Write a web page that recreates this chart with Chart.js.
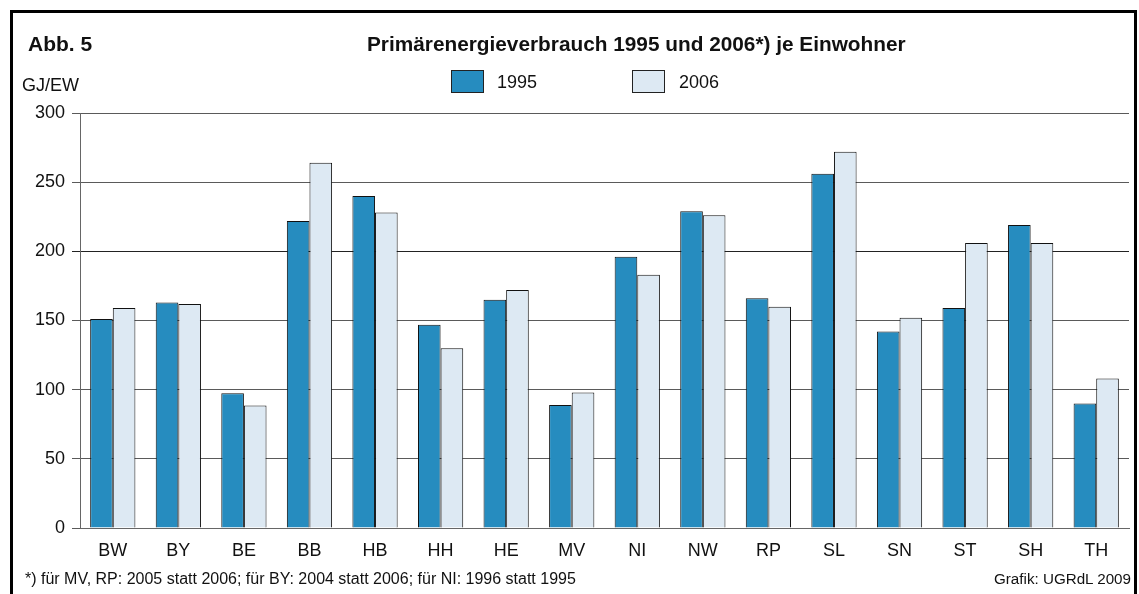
<!DOCTYPE html>
<html>
<head>
<meta charset="utf-8">
<script src="https://cdn.jsdelivr.net/npm/chart.js@4"></script>
<style>
  body { margin: 0; width: 1139px; height: 594px; overflow: hidden; background: #fff;
         font-family: 'Liberation Sans', Arial, sans-serif; color: #111; }
  #frame { position: absolute; left: 10px; top: 10px; width: 1121px; height: 600px;
           border: 3px solid #000; }
  #chartWrap { position: absolute; left: 0; top: 0; width: 1139px; height: 594px; }
  .txt { position: absolute; white-space: nowrap; }
  .legBox { position: absolute; width: 31px; height: 21px; border: 1px solid #222; }
</style>
</head>
<body>
<div id="frame"></div>
<div id="chartWrap"><canvas id="chart"></canvas></div>
<div class="txt" style="left:28px; top:32px; font-size:21px; font-weight:bold;">Abb. 5</div>
<div class="txt" id="title" style="left:367px; top:32px; font-size:20.8px; font-weight:bold;">Primärenergieverbrauch 1995 und 2006*) je Einwohner</div>
<div class="txt" style="left:22px; top:75px; font-size:18px;">GJ/EW</div>
<div id="legend"></div>
<div class="txt" style="left:25px; top:570px; font-size:16px;">*) für MV, RP: 2005 statt 2006; für BY: 2004 statt 2006; für NI: 1996 statt 1995</div>
<div class="txt" style="right:8px; top:570px; font-size:15.2px;">Grafik: UGRdL 2009</div>
<script>
// Bundesländer
const laender = ['BW', 'BY', 'BE', 'BB', 'HB', 'HH', 'HE', 'MV', 'NI', 'NW', 'RP', 'SL', 'SN', 'ST', 'SH', 'TH'];

// Primärenergieverbrauch je Einwohner in GJ
const werte1995 = [151, 163, 97.5, 222, 240, 147, 165, 89, 196, 229, 166, 256, 142, 159, 219, 90];
const werte2006 = [159, 162, 88.5, 264, 228, 130, 172, 98, 183, 226, 160, 272, 152, 206, 206, 108];

const jahre = ['1995', '2006'];
const farben = ['#268cbf', '#dde9f3'];

const yTicks = [0, 50, 100, 150, 200, 250, 300];

// Legende als HTML
const legendPos = [[451, 497], [632, 679]];
const legend = document.getElementById('legend');
jahre.forEach((j, i) => {
    const box = document.createElement('div');
    box.className = 'legBox';
    box.style.left = legendPos[i][0] + 'px';
    box.style.top = '70px';
    box.style.background = farben[i];
    legend.appendChild(box);
    const t = document.createElement('div');
    t.className = 'txt';
    t.style.left = legendPos[i][1] + 'px';
    t.style.top = '72px';
    t.style.fontSize = '18px';
    t.textContent = j;
    legend.appendChild(t);
});

const ctx = document.getElementById('chart').getContext('2d');
new Chart(ctx, {
    type: 'bar',
    data: {
        labels: laender,
        datasets: [
            {
                label: jahre[0],
                data: werte1995,
                backgroundColor: farben[0],
                borderColor: '#111',
                borderWidth: 1,
                categoryPercentage: 0.69,
                barPercentage: 1.0
            },
            {
                label: jahre[1],
                data: werte2006,
                backgroundColor: farben[1],
                borderColor: '#111',
                borderWidth: 1,
                categoryPercentage: 0.69,
                barPercentage: 1.0
            }
        ]
    },
    options: {
        responsive: true,
        maintainAspectRatio: false,
        animation: false,
        layout: { padding: { left: 0, right: 10, top: 113, bottom: 0 } },
        plugins: {
            legend: { display: false },
            tooltip: { enabled: false }
        },
        scales: {
            x: {
                grid: { display: false, drawTicks: false },
                border: { display: true, color: '#666', width: 1 },
                ticks: {
                    color: '#111',
                    padding: 12,
                    font: { family: "'Liberation Sans', Arial, sans-serif", size: 18 }
                },
                afterFit: scale => { scale.height = 66; }
            },
            y: {
                min: 0,
                max: 300,
                afterBuildTicks: scale => { scale.ticks = yTicks.map(v => ({ value: v })); },
                grid: {
                    color: c => (c.tick && c.tick.value === 200) ? '#222' : '#5a5a5a',
                    lineWidth: 1,
                    tickLength: 8,
                    drawTicks: true
                },
                border: { display: true, color: '#666', width: 1 },
                ticks: {
                    color: '#111',
                    padding: 7,
                    font: { family: "'Liberation Sans', Arial, sans-serif", size: 18 }
                },
                afterFit: scale => { scale.width = 80; }
            }
        }
    }
});
</script>
</body>
</html>
